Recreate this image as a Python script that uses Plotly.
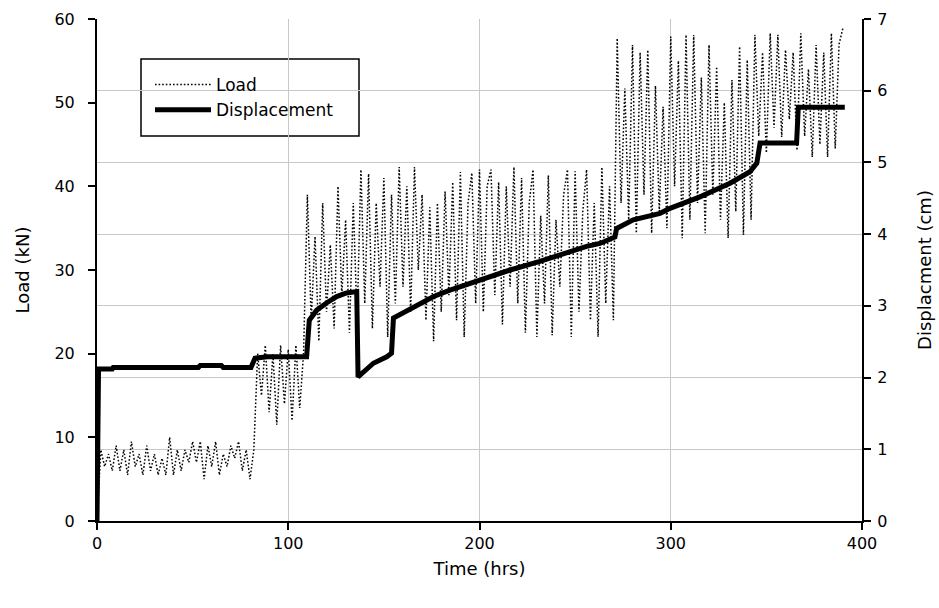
import plotly.graph_objects as go

# ---------------- data ----------------
# Load (kN), sampled every 2 hours from t = 0 to t = 390
load_step_hrs = 2
load_kn = [
    0.0, 8.5, 6.5, 8.0, 6.0, 9.0, 6.0, 8.5, 5.5, 9.5,
    6.5, 8.0, 5.5, 9.0, 6.0, 8.0, 5.5, 7.5, 5.5, 10.0,
    5.5, 8.5, 6.0, 8.5, 7.0, 9.5, 7.0, 9.5, 5.0, 9.0,
    6.5, 9.5, 5.5, 8.0, 6.5, 9.0, 7.5, 9.5, 6.0, 8.5,
    5.0, 8.5, 20.0, 15.0, 21.0, 13.0, 20.0, 11.5, 21.0, 14.0,
    20.5, 12.0, 21.0, 13.5, 20.0, 39.0, 24.0, 34.0, 21.5, 38.0,
    25.0, 33.0, 23.0, 40.0, 27.0, 36.0, 22.5, 38.0, 24.0, 42.0,
    26.0, 41.5, 23.0, 38.0, 28.0, 41.0, 22.0, 39.0, 26.0, 42.3,
    28.0, 40.0, 25.0, 42.3, 30.0, 39.0, 24.0, 37.5, 21.5, 38.0,
    25.0, 39.4, 27.0, 40.5, 24.0, 41.7, 22.0, 38.0, 41.6, 26.0,
    42.0, 25.0, 40.0, 42.0, 27.0, 40.5, 23.5, 40.0, 28.0, 42.3,
    26.0, 41.0, 22.5, 38.0, 42.0, 22.0, 36.5, 26.0, 41.3, 22.2,
    36.0, 28.0, 39.0, 42.0, 22.0, 41.8, 25.0, 37.0, 42.0, 24.0,
    38.0, 22.0, 42.3, 26.0, 40.0, 24.0, 57.7, 38.0, 51.7, 36.0,
    56.9, 34.4, 56.0, 39.0, 56.3, 34.4, 52.0, 37.0, 49.5, 35.0,
    57.9, 40.0, 55.0, 33.8, 58.1, 36.0, 58.1, 38.0, 53.0, 34.4,
    56.9, 39.0, 54.3, 36.0, 50.0, 33.8, 52.7, 37.0, 56.7, 34.2,
    55.1, 36.0, 58.1, 46.0, 56.0, 44.0, 58.3, 47.0, 58.1, 45.9,
    56.3, 48.0, 56.0, 44.3, 58.3, 46.0, 54.0, 43.5, 56.9, 45.0,
    56.0, 43.5, 58.3, 44.5, 57.0, 58.9,
]
load_time = [i * load_step_hrs for i in range(len(load_kn))]

# Displacement (cm) read at breakpoints
disp_time = [
    0, 0.8, 8, 8.5, 53, 54, 65, 66, 80.5, 82.6,
    89, 109.6, 111, 114.9, 120, 125.3, 130.5, 135.8, 136.5, 139.3,
    144.5, 151.5, 154, 155, 160, 167, 176, 184.6, 200, 216,
    231.6, 247, 256, 263, 270.8, 271.7, 280.4, 294.4, 299.6, 315.3,
    331, 341.4, 345, 346.7, 357, 365.8, 366.7, 391,
]
disp_cm = [
    0, 2.12, 2.12, 2.14, 2.14, 2.17, 2.17, 2.14, 2.14, 2.27,
    2.29, 2.29, 2.80, 2.94, 3.04, 3.13, 3.18, 3.20, 2.01, 2.08,
    2.20, 2.29, 2.34, 2.83, 2.90, 2.99, 3.13, 3.22, 3.36, 3.50,
    3.62, 3.76, 3.83, 3.87, 3.96, 4.08, 4.20, 4.29, 4.36, 4.52,
    4.71, 4.87, 4.99, 5.27, 5.27, 5.27, 5.77, 5.77,
]

x_ticks = [0, 100, 200, 300, 400]
load_ticks = [0, 10, 20, 30, 40, 50, 60]
disp_ticks = [0, 1, 2, 3, 4, 5, 6, 7]

# ---------------- figure ----------------
FONT = "DejaVu Sans"
fig = go.Figure()

fig.add_trace(go.Scatter(
    x=load_time, y=load_kn, name="Load", mode="lines",
    line=dict(color="black", width=1.5, dash="1.6px,2px"),
    yaxis="y",
))
fig.add_trace(go.Scatter(
    x=disp_time, y=disp_cm, name="Displacement", mode="lines",
    line=dict(color="black", width=5),
    yaxis="y2",
))

W, H = 939, 608
L, R, T, B = 97, 77, 19, 87
pw, ph = W - L - R, H - T - B

def px(x):
    return (x - L) / pw

def py(y):
    return (H - B - y) / ph

axis_common = dict(
    showline=True, linecolor="black", linewidth=2,
    ticks="outside", ticklen=7, tickcolor="black", tickwidth=1.5,
    zeroline=False, automargin=False,
    tickfont=dict(family=FONT, size=16, color="black"),
)

fig.update_layout(
    width=W, height=H,
    margin=dict(l=L, r=R, t=T, b=B, pad=0, autoexpand=False),
    paper_bgcolor="white", plot_bgcolor="white",
    font=dict(family=FONT, size=16, color="black"),
    showlegend=True,
    legend=dict(
        x=px(150), y=py(67), xanchor="left", yanchor="top",
        bgcolor="rgba(0,0,0,0)", borderwidth=0,
        font=dict(family=FONT, size=17, color="black"),
        itemwidth=56, tracegroupgap=0,
    ),
    xaxis=dict(
        range=[0, 400], tickvals=x_ticks, ticktext=[str(v) for v in x_ticks],
        showgrid=True, gridcolor="#c8c8c8", gridwidth=1,
        title=dict(text="Time (hrs)", font=dict(family=FONT, size=18), standoff=10),
        **axis_common,
    ),
    yaxis=dict(
        range=[0, 60], tickvals=load_ticks, ticktext=[str(v) for v in load_ticks],
        showgrid=False, ticklabelstandoff=10,
        title=dict(text="Load (kN)", font=dict(family=FONT, size=18), standoff=20),
        **axis_common,
    ),
    yaxis2=dict(
        range=[0, 7], tickvals=disp_ticks, ticktext=[str(v) for v in disp_ticks],
        overlaying="y", side="right",
        showgrid=True, gridcolor="#c8c8c8", gridwidth=1, ticklabelstandoff=3,
        title=dict(text="Displacment (cm)", font=dict(family=FONT, size=18), standoff=32),
        **axis_common,
    ),
    shapes=[dict(
        type="rect", xref="paper", yref="paper",
        x0=px(141), x1=px(359), y0=py(136), y1=py(59),
        line=dict(color="black", width=1.5), fillcolor="white", layer="below",
    )],
)

fig.write_html(
    "out.html",
    config={"displayModeBar": False},
    post_script="document.body.style.margin='0';document.body.style.padding='0';",
)
